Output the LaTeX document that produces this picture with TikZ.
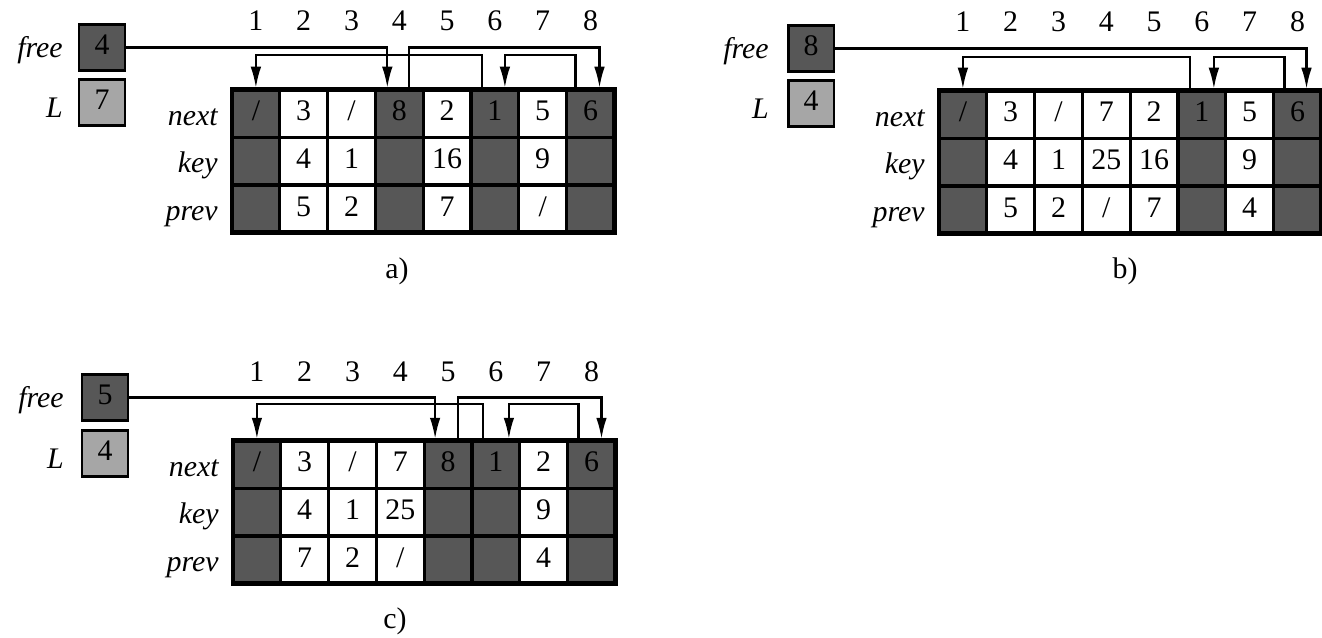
\documentclass[tikz,border=0pt]{standalone}
\usepackage{fontspec}
\setmainfont{Liberation Serif}
\usetikzlibrary{arrows.meta,calc}
\definecolor{dk}{HTML}{575757}
\definecolor{lt}{HTML}{A6A6A6}
\newcommand\sla{/}
\newcommand\fs{\fontsize{17}{20}\selectfont}
\tikzset{
  cell/.style={draw=black,line width=1.9pt,minimum width=0.956cm,minimum height=0.956cm,
    inner sep=0pt,font=\fs,text height=0.85em,text depth=0pt},
  outerframe/.style={draw=black,line width=2.8pt},
  regbox/.style={draw=black,line width=1.7pt,minimum width=0.92cm,minimum height=0.92cm,
    inner sep=0pt,font=\fs,text height=0.75em,text depth=0pt},
  hdr/.style={font=\fs,inner sep=0pt,text height=0.66em,text depth=0pt},
  lab/.style={font=\fs\itshape,inner sep=0pt,anchor=base east},
  captext/.style={font=\fs,inner sep=0pt,anchor=base},
  link/.style={draw=black,line width=1.2pt,-{Latex[length=12pt,width=6pt]}}
}
\newcommand\drawtable[4]{%
  \foreach \f/\n/\k/\p [count=\i] in {#4} {
    \node[cell,fill=\f] (#1-n\i) at ({#2+(\i-0.5)*47.8},{#3+23.9}) {\n};
    \node[cell,fill=\f] (#1-k\i) at ({#2+(\i-0.5)*47.8},{#3+71.7}) {\k};
    \node[cell,fill=\f] (#1-p\i) at ({#2+(\i-0.5)*47.8},{#3+119.5}) {\p};
    \node[hdr] (#1-h\i) at ({#2+(\i-0.5)*47.8},{#3-65}) {\i};
  }
  \draw[outerframe] (#2,#3) rectangle ++(382.4,143.4);
  \node[lab] (#1-rn) at ({#2-14},{#3+36}) {next};
  \node[lab] (#1-rk) at ({#2-14},{#3+83}) {key};
  \node[lab] (#1-rp) at ({#2-14},{#3+131}) {prev};
}
\begin{document}
\begin{tikzpicture}[x=0.02cm,y=-0.02cm]
\useasboundingbox (0,0) rectangle (1322,638);

% ---------- panel a ----------
\drawtable{a}{232}{89.5}{dk/\sla/{}/{}, white/3/4/5, white/\sla/1/2, dk/8/{}/{}, white/2/16/7, dk/1/{}/{}, white/5/9/\sla, dk/6/{}/{}}
\node[regbox,fill=dk] (a-free) at (102,47.5) {4};
\node[regbox,fill=lt] (a-L) at (102,102.5) {7};
\node[lab] (a-lf) at (63,58) {free};
\node[lab] (a-lL) at (63,118) {L};
\node[captext] (a-cap) at (397,279) {a)};
\coordinate (a-t4) at ([xshift=-0.24cm]a-n4.north);
\coordinate (a-s4) at ([xshift=0.2cm]a-n4.north);
\coordinate (a-t8) at ([xshift=0.18cm]a-n8.north);
\coordinate (a-s8) at ([xshift=-0.3cm]a-n8.north);
\coordinate (a-t6) at ([xshift=0.2cm]a-n6.north);
\coordinate (a-s6) at ([xshift=-0.26cm]a-n6.north);
\coordinate (a-t1) at (a-n1.north);
\coordinate (a-lo) at ([yshift=0.66cm]a-n1.north);
\draw[link] (a-free.east) -| (a-t4);
\draw[link] (a-s4) |- (a-t8 |- a-free.east) -- (a-t8);
\draw[link] (a-s8) |- (a-t6 |- a-lo) -- (a-t6);
\draw[link] (a-s6) |- (a-t1 |- a-lo) -- (a-t1);

% ---------- panel b ----------
\drawtable{b}{939}{90.5}{dk/\sla/{}/{}, white/3/4/5, white/\sla/1/2, white/7/25/\sla, white/2/16/7, dk/1/{}/{}, white/5/9/4, dk/6/{}/{}}
\node[regbox,fill=dk] (b-free) at (811,48.5) {8};
\node[regbox,fill=lt] (b-L) at (811,103.5) {4};
\node[lab] (b-lf) at (769,59) {free};
\node[lab] (b-lL) at (769,119) {L};
\node[captext] (b-cap) at (1125,279) {b)};
\coordinate (b-t8) at ([xshift=0.18cm]b-n8.north);
\coordinate (b-s8) at ([xshift=-0.26cm]b-n8.north);
\coordinate (b-t6) at ([xshift=0.24cm]b-n6.north);
\coordinate (b-s6) at ([xshift=-0.24cm]b-n6.north);
\coordinate (b-t1) at (b-n1.north);
\coordinate (b-lo) at ([yshift=0.64cm]b-n1.north);
\draw[link] (b-free.east) -| (b-t8);
\draw[link] (b-s8) |- (b-t6 |- b-lo) -- (b-t6);
\draw[link] (b-s6) |- (b-t1 |- b-lo) -- (b-t1);

% ---------- panel c ----------
\drawtable{c}{233}{440.5}{dk/\sla/{}/{}, white/3/4/7, white/\sla/1/2, white/7/25/\sla, dk/8/{}/{}, dk/1/{}/{}, white/2/9/4, dk/6/{}/{}}
\node[regbox,fill=dk] (c-free) at (105,397.5) {5};
\node[regbox,fill=lt] (c-L) at (105,453.5) {4};
\node[lab] (c-lf) at (64,408) {free};
\node[lab] (c-lL) at (64,468) {L};
\node[captext] (c-cap) at (395,628) {c)};
\coordinate (c-t5) at ([xshift=-0.26cm]c-n5.north);
\coordinate (c-s5) at ([xshift=0.2cm]c-n5.north);
\coordinate (c-t8) at ([xshift=0.2cm]c-n8.north);
\coordinate (c-s8) at ([xshift=-0.26cm]c-n8.north);
\coordinate (c-t6) at ([xshift=0.26cm]c-n6.north);
\coordinate (c-s6) at ([xshift=-0.26cm]c-n6.north);
\coordinate (c-t1) at (c-n1.north);
\coordinate (c-lo) at ([yshift=0.69cm]c-n1.north);
\draw[link] (c-free.east) -| (c-t5);
\draw[link] (c-s5) |- (c-t8 |- c-free.east) -- (c-t8);
\draw[link] (c-s8) |- (c-t6 |- c-lo) -- (c-t6);
\draw[link] (c-s6) |- (c-t1 |- c-lo) -- (c-t1);
\end{tikzpicture}
\end{document}
